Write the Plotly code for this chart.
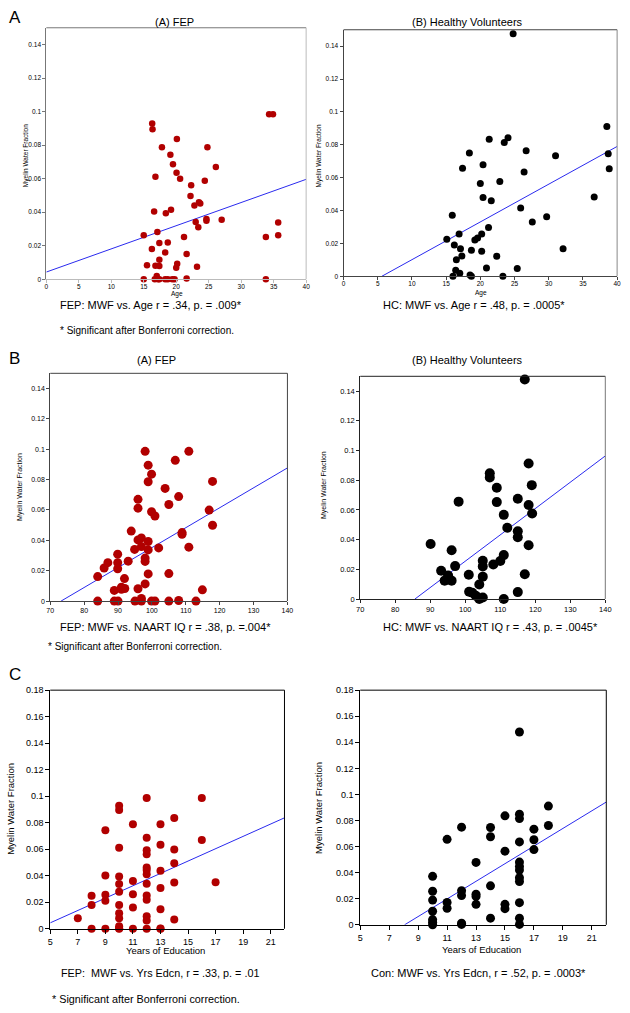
import plotly.graph_objects as go

# ---------------- DATA ----------------
# Panel A: MWF vs Age
fep_age = [15.0, 15.0, 15.5, 16.25, 16.3, 16.35, 16.6, 16.7, 16.8, 16.8,
           17.0, 17.2, 17.1, 17.4, 17.4, 17.4, 17.4, 17.8, 18.3, 18.3,
           18.4, 18.7, 18.7, 19.1, 19.2, 19.4, 19.5, 19.75, 20.0, 20.05,
           20.1, 20.15, 20.6, 21.2, 21.6, 21.6, 23.2, 22.2, 22.3, 22.8,
           23.0, 23.4, 23.5, 23.7, 24.4, 24.65, 24.65, 24.8, 26.1, 27.0,
           33.8, 33.8, 34.3, 34.9, 35.7, 35.7]
fep_age_mwf = [0.0262, 0.0, 0.0083, 0.0181, 0.0929, 0.0895, 0.0404, 0.0, 0.0611, 0.0081,
               0.0020, 0.0, 0.0282, 0.0, 0.0217, 0.0116, 0.0079, 0.0787, 0.0160, 0.0,
               0.0393, 0.0219, 0.0, 0.0742, 0.0414, 0.0, 0.0686, 0.0, 0.0069, 0.0635,
               0.0836, 0.0093, 0.0600, 0.0252, 0.0150, 0.0004, 0.0075, 0.0497, 0.0560, 0.0440,
               0.0341, 0.0310, 0.0460, 0.0452, 0.0588, 0.0359, 0.0349, 0.0787, 0.0669, 0.0355,
               0.0252, 0.0, 0.0984, 0.0984, 0.0339, 0.0262]
fep_age_fit_x = [0, 40]
fep_age_fit_y = [0.0043, 0.0596]

hc_age = [24.8, 38.5, 38.7, 38.85, 36.65, 31.0, 26.7, 26.4, 25.9, 27.6,
          29.7, 32.1, 21.3, 23.5, 24.05, 18.4, 20.4, 17.4, 20.0, 22.85,
          20.4, 21.6, 15.9, 16.9, 15.1, 16.2, 17.1, 17.3, 16.5, 21.2,
          20.2, 19.6, 19.2, 18.7, 20.2, 22.4, 20.9, 25.4, 16.4, 17.0,
          16.0, 18.5, 18.7, 23.3]
hc_age_mwf = [0.1476, 0.0911, 0.0746, 0.0654, 0.0483, 0.0734, 0.0764, 0.0634, 0.0415, 0.0331,
              0.0363, 0.0167, 0.0834, 0.0814, 0.0843, 0.0750, 0.0678, 0.0658, 0.0564, 0.0576,
              0.0479, 0.0459, 0.0371, 0.0257, 0.0225, 0.0191, 0.0167, 0.0124, 0.0100, 0.0297,
              0.0257, 0.0233, 0.0221, 0.0158, 0.0152, 0.0122, 0.0050, 0.0048, 0.0036, 0.0018,
              0.0, 0.0008, 0.0, 0.0]
hc_age_fit_x = [5.6, 40]
hc_age_fit_y = [0.0, 0.079]

# Panel B: MWF vs NAART IQ
fep_iq = [84.0, 84.0, 85.9, 87.0, 88.9, 88.9, 90.0, 89.9, 89.9, 89.9,
          91.0, 91.0, 92.0, 91.9, 93.0, 93.9, 94.9, 95.0, 95.9, 95.9,
          95.9, 96.9, 96.9, 95.9, 96.9, 96.9, 98.0, 98.0, 98.0, 98.0,
          98.9, 98.9, 98.9, 98.9, 98.9, 99.9, 99.9, 99.9, 100.9, 100.9,
          102.0, 103.9, 105.0, 105.0, 105.0, 106.9, 107.9, 107.9, 108.9, 108.9,
          110.9, 110.9, 113.0, 114.9, 116.9, 117.9, 117.9]
fep_iq_mwf = [0.0, 0.0161, 0.0218, 0.0253, 0.0070, 0.0, 0.0, 0.0309, 0.0253, 0.0213,
              0.0091, 0.0078, 0.0083, 0.0148, 0.0263, 0.0461, 0.0340, 0.0, 0.0670, 0.0612,
              0.0403, 0.0416, 0.0359, 0.0081, 0.0017, 0.0, 0.0986, 0.0283, 0.0261, 0.0113,
              0.0895, 0.0786, 0.0392, 0.0337, 0.0179, 0.0836, 0.0588, 0.0, 0.0560, 0.0,
              0.0350, 0.0742, 0.0636, 0.0181, 0.0, 0.0927, 0.0688, 0.0004, 0.0451, 0.0440,
              0.0986, 0.0355, 0.0, 0.0074, 0.0599, 0.0788, 0.0499]
fep_iq_fit_x = [73.2, 140]
fep_iq_fit_y = [0.0, 0.0877]

hc_iq = [117.0, 118.1, 119.0, 118.1, 119.1, 118.1, 117.0, 115.0, 115.0, 115.0,
         115.0, 112.0, 111.0, 111.0, 110.0, 111.0, 109.0, 109.0, 107.0, 107.0,
         108.0, 105.0, 105.0, 105.0, 105.0, 104.0, 104.0, 102.0, 101.0, 101.1,
         103.0, 98.1, 97.1, 96.1, 96.1, 95.1, 94.1, 93.1, 90.1]
hc_iq_mwf = [0.1478, 0.0913, 0.0767, 0.0633, 0.0576, 0.0362, 0.0167, 0.0676, 0.0456, 0.0416,
             0.0047, 0.0480, 0.0567, 0.0296, 0.0256, 0.0, 0.0749, 0.0653, 0.0847, 0.0818,
             0.0233, 0.0258, 0.0220, 0.0151, 0.0011, 0.0098, 0.0, 0.0042, 0.0164, 0.0049,
             0.0022, 0.0656, 0.0222, 0.0329, 0.0124, 0.0158, 0.0124, 0.0191, 0.0371]
hc_iq_fit_x = [85.6, 140]
hc_iq_fit_y = [0.0, 0.0964]

# Panel C: MWF vs Years of Education
fep_edu = [7, 8, 8, 8, 9, 9, 9, 9, 9,
           10, 10, 10, 10, 10, 10, 10, 10, 10, 10, 10, 10,
           11, 11, 11, 11, 11,
           12, 12, 12, 12, 12, 12, 12, 12, 12, 12, 12, 12, 12,
           13, 13, 13, 13, 13, 13, 13,
           14, 14, 14, 14, 14, 16, 16, 17]
fep_edu_mwf = [0.0080, 0.0250, 0.0180, 0.0, 0.0744, 0.0402, 0.0257, 0.0212, 0.0,
               0.0929, 0.0896, 0.0612, 0.0395, 0.0337, 0.0280, 0.0180, 0.0117, 0.0080, 0.0020, 0.0005, 0.0,
               0.0789, 0.0360, 0.0260, 0.0160, 0.0,
               0.0986, 0.0687, 0.0592, 0.0562, 0.0462, 0.0444, 0.0412, 0.0340, 0.0252, 0.0220, 0.0095, 0.0062, 0.0,
               0.0789, 0.0634, 0.0437, 0.0307, 0.0147, 0.0002, 0.0,
               0.0836, 0.0599, 0.0494, 0.0350, 0.0070, 0.0986, 0.0669, 0.0352]
fep_edu_fit_x = [5, 22]
fep_edu_fit_y = [0.0045, 0.0837]

hc_edu = [16, 18, 18, 17, 17, 17,
          16, 16, 16, 16, 16, 16, 16, 16, 16, 16, 16,
          15, 15, 15, 15, 14, 14, 14, 14,
          13, 13, 13, 13, 12, 12, 12, 12, 12,
          11, 11, 11, 10, 10, 10, 10, 10, 10, 10]
hc_edu_mwf = [0.1479, 0.0911, 0.0762, 0.0734, 0.0653, 0.0577,
              0.0848, 0.0815, 0.0636, 0.0481, 0.0448, 0.0420, 0.0362, 0.0332, 0.0170, 0.0051, 0.0003,
              0.0836, 0.0565, 0.0157, 0.0124, 0.0747, 0.0676, 0.0299, 0.0051,
              0.0479, 0.0235, 0.0218, 0.0157, 0.0749, 0.0261, 0.0225, 0.0013, 0.0003,
              0.0656, 0.0172, 0.0127, 0.0372, 0.0258, 0.0190, 0.0104, 0.0040, 0.0020, 0.0]
hc_edu_fit_x = [8.06, 22]
hc_edu_fit_y = [0.0, 0.0942]

age_ticks = [0, 5, 10, 15, 20, 25, 30, 35, 40]
iq_ticks = [70, 80, 90, 100, 110, 120, 130, 140]
edu_ticks = [5, 7, 9, 11, 13, 15, 17, 19, 21]
mwf_ticks_ab = [0, 0.02, 0.04, 0.06, 0.08, 0.1, 0.12, 0.14]
mwf_labels_ab = ["0", "0.02", "0.04", "0.06", "0.08", "0.1", "0.12", "0.14"]
mwf_ticks_c = [0, 0.02, 0.04, 0.06, 0.08, 0.1, 0.12, 0.14, 0.16, 0.18]
mwf_labels_c = ["0", "0.02", "0.04", "0.06", "0.08", "0.1", "0.12", "0.14", "0.16", "0.18"]

# ---------------- LAYOUT HELPERS ----------------
W, H = 630, 1013
FONT = "Liberation Sans, Arial, sans-serif"
RED = "#b10000"
BLUE = "#2a2aee"


def fx(p):
    return p / W


def fy(p):
    return 1 - p / H


panels = [
    dict(x=fep_age, y=fep_age_mwf, fx_=fep_age_fit_x, fy_=fep_age_fit_y, color=RED, size=6.5,
         box=(43, 307, 23, 277), xr=[0, 40], yr=[0, 0.15], xt=age_ticks,
         yt=mwf_ticks_ab, yl=mwf_labels_ab, tf=6.5, tl=3, so=-2,
         lb="#777777", rt="#bbbbbb", lb2="#bbbbbb"),
    dict(x=hc_age, y=hc_age_mwf, fx_=hc_age_fit_x, fy_=hc_age_fit_y, color="black", size=7,
         box=(345, 623, 25, 274), xr=[0, 40], yr=[0, 0.15], xt=age_ticks,
         yt=mwf_ticks_ab, yl=mwf_labels_ab, tf=6.5, tl=3, so=-2,
         lb="#444444", rt="#888888", lb2="#444444"),
    dict(x=fep_iq, y=fep_iq_mwf, fx_=fep_iq_fit_x, fy_=fep_iq_fit_y, color=RED, size=9,
         box=(47, 288, 372, 602), xr=[70, 140], yr=[0, 0.15], xt=iq_ticks,
         yt=mwf_ticks_ab, yl=mwf_labels_ab, tf=7, tl=3, so=0,
         lb="#444444", rt="#444444", lb2="#444444"),
    dict(x=hc_iq, y=hc_iq_mwf, fx_=hc_iq_fit_x, fy_=hc_iq_fit_y, color="black", size=10,
         box=(362, 611, 375, 600), xr=[70, 140], yr=[0, 0.15], xt=iq_ticks,
         yt=mwf_ticks_ab, yl=mwf_labels_ab, tf=7.5, tl=3, so=0,
         lb="#222222", rt="#777777", lb2="#222222"),
    dict(x=fep_edu, y=fep_edu_mwf, fx_=fep_edu_fit_x, fy_=fep_edu_fit_y, color=RED, size=8,
         box=(47, 285, 692, 933), xr=[5, 22], yr=[0, 0.18], xt=edu_ticks,
         yt=mwf_ticks_c, yl=mwf_labels_c, tf=9, tl=4, so=0,
         lb="#000000", rt="#000000", lb2="#000000"),
    dict(x=hc_edu, y=hc_edu_mwf, fx_=hc_edu_fit_x, fy_=hc_edu_fit_y, color="black", size=9,
         box=(362, 612, 692, 929), xr=[5, 22], yr=[0, 0.18], xt=edu_ticks,
         yt=mwf_ticks_c, yl=mwf_labels_c, tf=9, tl=4, so=0,
         lb="#000000", rt="#000000", lb2="#000000"),
]

fig = go.Figure()
shapes = []
layout = {}
for i, p in enumerate(panels, start=1):
    xa = "x" if i == 1 else f"x{i}"
    ya = "y" if i == 1 else f"y{i}"
    l, r, t, b = p["box"]
    fig.add_trace(go.Scatter(x=p["fx_"], y=p["fy_"], mode="lines",
                             line=dict(color=BLUE, width=1), xaxis=xa, yaxis=ya,
                             showlegend=False, hoverinfo="skip", cliponaxis=False))
    fig.add_trace(go.Scatter(x=p["x"], y=p["y"], mode="markers",
                             marker=dict(color=p["color"], size=p["size"], line=dict(width=0)),
                             xaxis=xa, yaxis=ya, showlegend=False, cliponaxis=False))
    layout[f"xaxis{'' if i == 1 else i}"] = dict(
        domain=[fx(l), fx(r)], anchor=ya, range=p["xr"], tickmode="array",
        tickvals=p["xt"], ticktext=[str(v) for v in p["xt"]], ticks="outside",
        ticklen=p["tl"], tickcolor=p["lb2"], showline=True, linecolor=p["lb2"], linewidth=1,
        ticklabelstandoff=p["so"],
        showgrid=False, zeroline=False, tickfont=dict(size=p["tf"], color="black", family=FONT),
        fixedrange=True)
    layout[f"yaxis{'' if i == 1 else i}"] = dict(
        domain=[fy(b), fy(t)], anchor=xa, range=p["yr"], tickmode="array",
        tickvals=p["yt"], ticktext=p["yl"], ticks="outside", ticklen=p["tl"],
        tickcolor=p["lb"], showline=True, linecolor=p["lb"], linewidth=1,
        showgrid=False, zeroline=False, tickfont=dict(size=p["tf"], color="black", family=FONT),
        fixedrange=True)
    # top and right frame lines
    shapes.append(dict(type="line", xref=f"{xa} domain", yref=f"{ya} domain",
                       x0=0, x1=1, y0=1, y1=1, line=dict(color=p["lb"], width=1)))
    shapes.append(dict(type="line", xref=f"{xa} domain", yref=f"{ya} domain",
                       x0=1, x1=1, y0=0, y1=1, line=dict(color=p["rt"], width=1)))

# ---------------- TEXT ----------------
texts = [
    # (text, x_px, y_px, size, xanchor, angle)
    ("A", 3, 13, 17, "left", 0),
    ("B", 3, 357, 17, "left", 0),
    ("C", 3, 676, 17, "left", 0),
    ("(A) FEP", 173, 17, 11, "center", 0),
    ("(B) Healthy Volunteers", 471, 17, 11, "center", 0),
    ("(A) FEP", 155, 359, 11, "center", 0),
    ("(B) Healthy Volunteers", 471, 359, 11, "center", 0),
    ("Age", 176, 292, 6.5, "center", 0),
    ("Age", 485, 291, 6.5, "center", 0),
    ("Years of Education", 164, 955, 9.5, "center", 0),
    ("Years of Education", 485, 954, 9.5, "center", 0),
    ("Myelin Water Fraction", 23, 152, 6.5, "center", -90),
    ("Myelin Water Fraction", 321, 152, 6.5, "center", -90),
    ("Myelin Water Fraction", 16, 487, 7, "center", -90),
    ("Myelin Water Fraction", 325, 485, 7, "center", -90),
    ("Myelin Water Fraction", 7, 812, 9.5, "center", -90),
    ("Myelin Water Fraction", 320, 811, 9.5, "center", -90),
    ("FEP: MWF vs. Age r = .34, p. = .009*", 55, 303, 11, "left", 0),
    ("* Significant after Bonferroni correction.", 55, 329, 10, "left", 0),
    ("HC: MWF vs. Age r = .48, p. = .0005*", 383, 303, 11, "left", 0),
    ("FEP: MWF vs. NAART IQ r = .38, p. =.004*", 55, 628, 11, "left", 0),
    ("* Significant after Bonferroni correction.", 43, 648, 10, "left", 0),
    ("HC: MWF vs. NAART IQ r = .43, p. = .0045*", 383, 628, 11, "left", 0),
    ("FEP:  MWF vs. Yrs Edcn, r = .33, p. = .01", 56, 978, 10.8, "left", 0),
    ("* Significant after Bonferroni correction.", 47, 1004, 10.8, "left", 0),
    ("Con: MWF vs. Yrs Edcn, r = .52, p. = .0003*", 371, 978, 11, "left", 0),
]
annotations = []
for txt, x, y, s, xa_, ang in texts:
    annotations.append(dict(text=txt.replace("  ", "&nbsp; "), x=fx(x), y=fy(y), xref="paper", yref="paper",
                            xanchor=xa_, yanchor="middle", showarrow=False, textangle=ang,
                            font=dict(size=s, color="black", family=FONT)))

fig.update_layout(width=W, height=H, margin=dict(l=0, r=0, t=0, b=0),
                  paper_bgcolor="white", plot_bgcolor="white",
                  shapes=shapes, annotations=annotations, showlegend=False, **layout)

fig.write_html("out.html", config={"displayModeBar": False},
               post_script="document.body.style.margin='0px';document.body.style.overflow='hidden';")
